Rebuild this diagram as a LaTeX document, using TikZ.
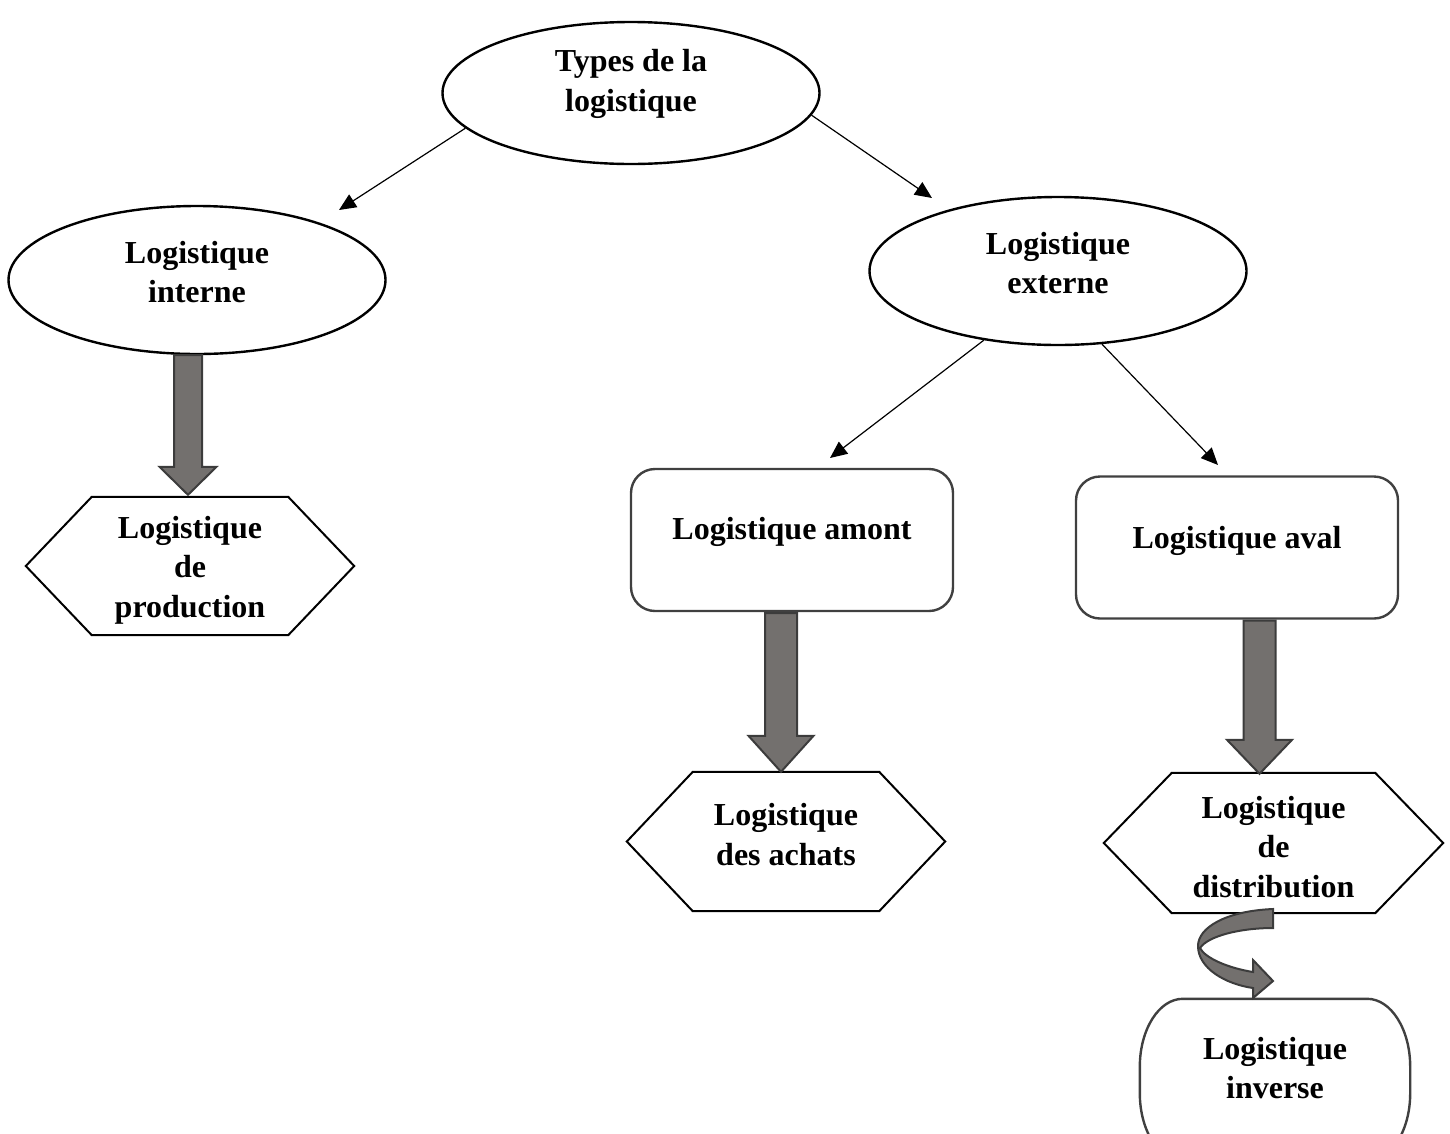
\documentclass[tikz,border=0pt]{standalone}
\usepackage{fontspec}
\setmainfont{Liberation Serif}
\usetikzlibrary{arrows.meta,calc,shapes.geometric}

\definecolor{blkfill}{RGB}{115,112,110}
\definecolor{blkedge}{RGB}{60,60,60}
\definecolor{boxedge}{RGB}{64,64,64}

\tikzset{
  lbl/.style={font=\bfseries\fontsize{32}{39.5}\selectfont, align=center, inner sep=0pt},
  ellbox/.style={draw=black, line width=2.4pt, ellipse, inner sep=0pt, minimum width=377pt, minimum height=#1},
  ellbox/.default=140pt,
  rbox/.style={draw=boxedge, line width=2.4pt, rounded corners=24pt, minimum width=322pt, minimum height=142pt},
  hexframe/.style={draw=black, line width=2pt, line join=miter},
  hexspot/.style={rectangle, inner sep=0pt},
  thinarrow/.style={line width=1.2pt, -{Triangle[length=17pt,width=15pt]}},
  blk/.style={fill=blkfill, draw=blkedge, line width=2pt, line join=miter},
}

% hexagon drawn round an invisible node: #1 node name, #2 depth of the points
\newcommand\hexaround[2]{%
  \draw[hexframe] (#1.west) -- ([xshift=#2]#1.north west) -- ([xshift=-#2]#1.north east)
    -- (#1.east) -- ([xshift=-#2]#1.south east) -- ([xshift=#2]#1.south west) -- cycle;}

% broad downward arrow: #1 top of shaft, #2 tip, #3 half shaft, #4 half head, #5 head length
\newcommand\blkarrow[5]{%
  \draw[blk] let \p1=(#1), \p2=(#2) in
    (\x2-#3,\y1) -- (\x2+#3,\y1) -- (\x2+#3,\y2+#5) -- (\x2+#4,\y2+#5) -- (\x2,\y2)
    -- (\x2-#4,\y2+#5) -- (\x2-#3,\y2+#5) -- cycle;}

\begin{document}
\begin{tikzpicture}[x=1pt,y=-1pt]
\useasboundingbox (0,0) rectangle (1450,1133);
\clip (0,0) rectangle (1450,1133);

% ---- ellipses ----
\node[ellbox=142pt] (top) at (631,93) {};
\node[lbl] (topT) at ([yshift=9pt]top.center) {Types de la\\logistique};

\node[ellbox=148pt] (int) at (197,280) {};
\node[lbl] (intT) at ([yshift=8pt]int.center) {Logistique\\interne};

\node[ellbox=148pt] (ext) at (1058,271) {};
\node[lbl] (extT) at ([yshift=8pt]ext.center) {Logistique\\externe};

% ---- rounded boxes ----
\node[rbox] (amont) at (792,540) {};
\node[lbl] (amontT) at ([yshift=8pt]amont.center) {Logistique amont};

\node[rbox] (aval) at (1237,547.5) {};
\node[lbl] (avalT) at ([yshift=7pt]aval.center) {Logistique aval};

% ---- hexagons ----
\node[hexspot, minimum width=328pt, minimum height=138pt] (prod) at (190,566) {};
\hexaround{prod}{66pt}
\node[lbl] (prodT) at ([yshift=-4pt]prod.center) {Logistique\\de\\production};

\node[hexspot, minimum width=318pt, minimum height=139pt] (achat) at (786,841.5) {};
\hexaround{achat}{66pt}
\node[lbl] (achatT) at ([yshift=7pt]achat.center) {Logistique\\des achats};

\node[hexspot, minimum width=339pt, minimum height=140pt] (distr) at (1273.5,843) {};
\hexaround{distr}{68pt}
\node[lbl] (distrT) at ([yshift=-4pt]distr.center) {Logistique\\de\\distribution};

% ---- reverse logistics box (elliptic corners) ----
\node[hexspot, minimum width=270pt, minimum height=162pt] (inv) at (1275,1080) {};
\draw[draw=boxedge, line width=2.4pt]
  ([yshift=68pt]inv.south west) -- ([yshift=-68pt]inv.north west)
  arc[start angle=180, end angle=90, x radius=43pt, y radius=68pt]
  -- ([xshift=-43pt]inv.north east)
  arc[start angle=90, end angle=0, x radius=43pt, y radius=68pt]
  -- ([yshift=68pt]inv.south east)
  arc[start angle=0, end angle=-90, x radius=43pt, y radius=68pt]
  -- ([xshift=43pt]inv.south west)
  arc[start angle=-90, end angle=-180, x radius=43pt, y radius=68pt] -- cycle;
\node[lbl] (invT) at ([yshift=12pt]inv.center) {Logistique\\inverse};

% ---- thin arrows ----
\coordinate (tipInt) at (339,210);
\coordinate (tipExt) at (932,198);
\coordinate (tipAmont) at (830,458);
\coordinate (tipAval) at (1218,465);
\draw[thinarrow] (top.192) -- (tipInt);
\draw[thinarrow] (top.353.5) -- (tipExt);
\draw[thinarrow] (ext.223.4) -- (tipAmont);
\draw[thinarrow] (ext.301.3) -- (tipAval);

% ---- broad arrows ----
\blkarrow{int.south}{[xshift=-2pt,yshift=2pt]prod.north}{14pt}{28.5pt}{28pt}
\blkarrow{[yshift=-1pt]amont.south}{[xshift=-5pt]achat.north}{16pt}{32.5pt}{36pt}
\blkarrow{[yshift=-1pt]aval.south}{[xshift=-14pt,yshift=-1pt]distr.north}{16pt}{32.5pt}{34pt}

% ---- curled arrow towards the reverse logistics box ----
\draw[blk]
  (1273,909) .. controls (1225,911) and (1198,928) .. (1198,946)
  .. controls (1198,968) and (1225,984) .. (1253,988)
  -- (1253,998) -- (1273,981) -- (1253,960) -- (1253,972)
  .. controls (1228,968) and (1205,958) .. (1200,948)
  .. controls (1208,936) and (1240,928) .. (1273,928) -- cycle;
\end{tikzpicture}
\end{document}
